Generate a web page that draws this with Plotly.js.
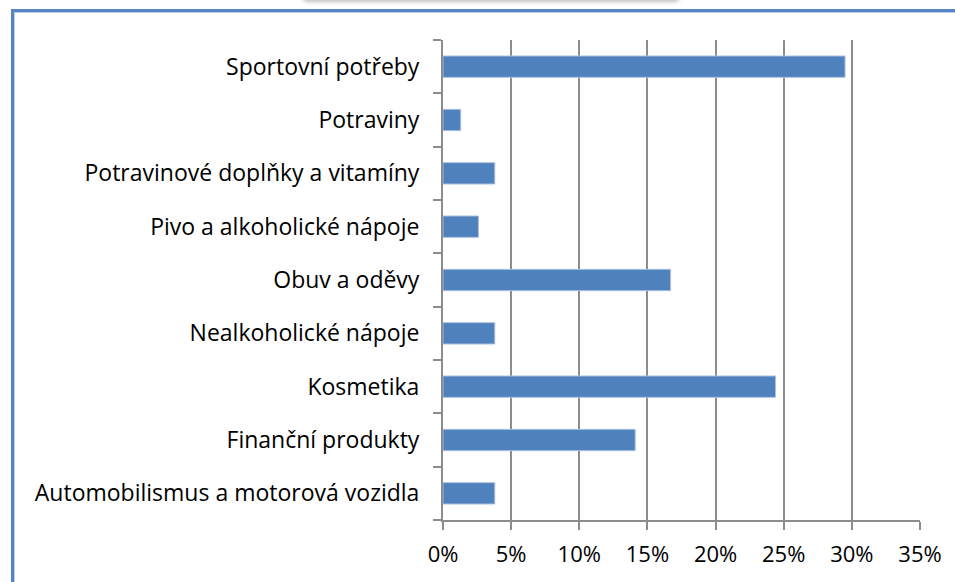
<!DOCTYPE html>
<html>
<head>
<meta charset="utf-8">
<script src="https://cdn.plot.ly/plotly-3.0.1.min.js"></script>
<style>
  html, body { margin: 0; padding: 0; background: #fff; }
  #wrap { position: relative; width: 955px; height: 582px; overflow: hidden; background: #fff; }
  #chart { position: absolute; left: 0; top: 0; width: 955px; height: 582px; }
  #frame { position: absolute; left: 11px; top: 9px; width: 1000px; height: 1000px;
           border-left: 3px solid #5585c4; border-top: 3px solid #5585c4;
           box-shadow: inset 1px 1px 0 #b9cde8; pointer-events: none; }
  #tab { position: absolute; left: 302px; top: -10px; width: 378px; height: 10px;
         box-shadow: 0 2px 4px rgba(0,0,0,0.25); background: #fff; border-radius: 0 0 6px 6px; pointer-events: none; }
</style>
</head>
<body>
<div id="wrap">
  <div id="chart"></div>
  <div id="frame"></div>
  <div id="tab"></div>
</div>
<script>
// Categories from bottom to top as drawn
var categories = [
  "Automobilismus a motorová vozidla",
  "Finanční produkty",
  "Kosmetika",
  "Nealkoholické nápoje",
  "Obuv a oděvy",
  "Pivo a alkoholické nápoje",
  "Potravinové doplňky a vitamíny",
  "Potraviny",
  "Sportovní potřeby"
];
var shares = [0.038, 0.141, 0.244, 0.038, 0.167, 0.026, 0.038, 0.013, 0.295];
var tickValues = [0, 0.05, 0.10, 0.15, 0.20, 0.25, 0.30, 0.35];
var tickLabels = ["0%", "5%", "10%", "15%", "20%", "25%", "30%", "35%"];

var fontFamily = "'Open Sans', 'Noto Sans', sans-serif";

var trace = {
  type: "bar",
  orientation: "h",
  x: shares,
  y: categories,
  width: 0.4,
  marker: { color: "#4f81bd", line: { color: "#a9c1e2", width: 1 } },
  hoverinfo: "x+y"
};

var layout = {
  width: 955,
  height: 582,
  margin: { l: 443, r: 35, t: 40, b: 62, pad: 0 },
  paper_bgcolor: "#ffffff",
  plot_bgcolor: "#ffffff",
  showlegend: false,
  bargap: 0.6,
  font: { family: fontFamily, size: 23, color: "#000000" },
  xaxis: {
    range: [0, 0.35],
    tickvals: tickValues,
    ticktext: tickLabels,
    showgrid: true,
    gridcolor: "#8c8c8c",
    gridwidth: 2,
    zeroline: false,
    showline: true,
    linecolor: "#8c8c8c",
    linewidth: 2,
    ticks: "outside",
    ticklen: 8,
    tickwidth: 2,
    tickcolor: "#8c8c8c",
    ticklabelstandoff: 6,
    tickfont: { family: fontFamily, size: 22, color: "#000" },
    fixedrange: true
  },
  yaxis: {
    type: "category",
    categoryorder: "array",
    categoryarray: categories,
    showgrid: false,
    zeroline: false,
    showline: true,
    linecolor: "#8c8c8c",
    linewidth: 2,
    ticks: "outside",
    tickson: "boundaries",
    ticklen: 8,
    tickwidth: 2,
    tickcolor: "#8c8c8c",
    ticklabelstandoff: 17,
    tickfont: { family: fontFamily, size: 23, color: "#000" },
    fixedrange: true
  }
};

Plotly.newPlot("chart", [trace], layout, { displayModeBar: false, staticPlot: true });
</script>
</body>
</html>
